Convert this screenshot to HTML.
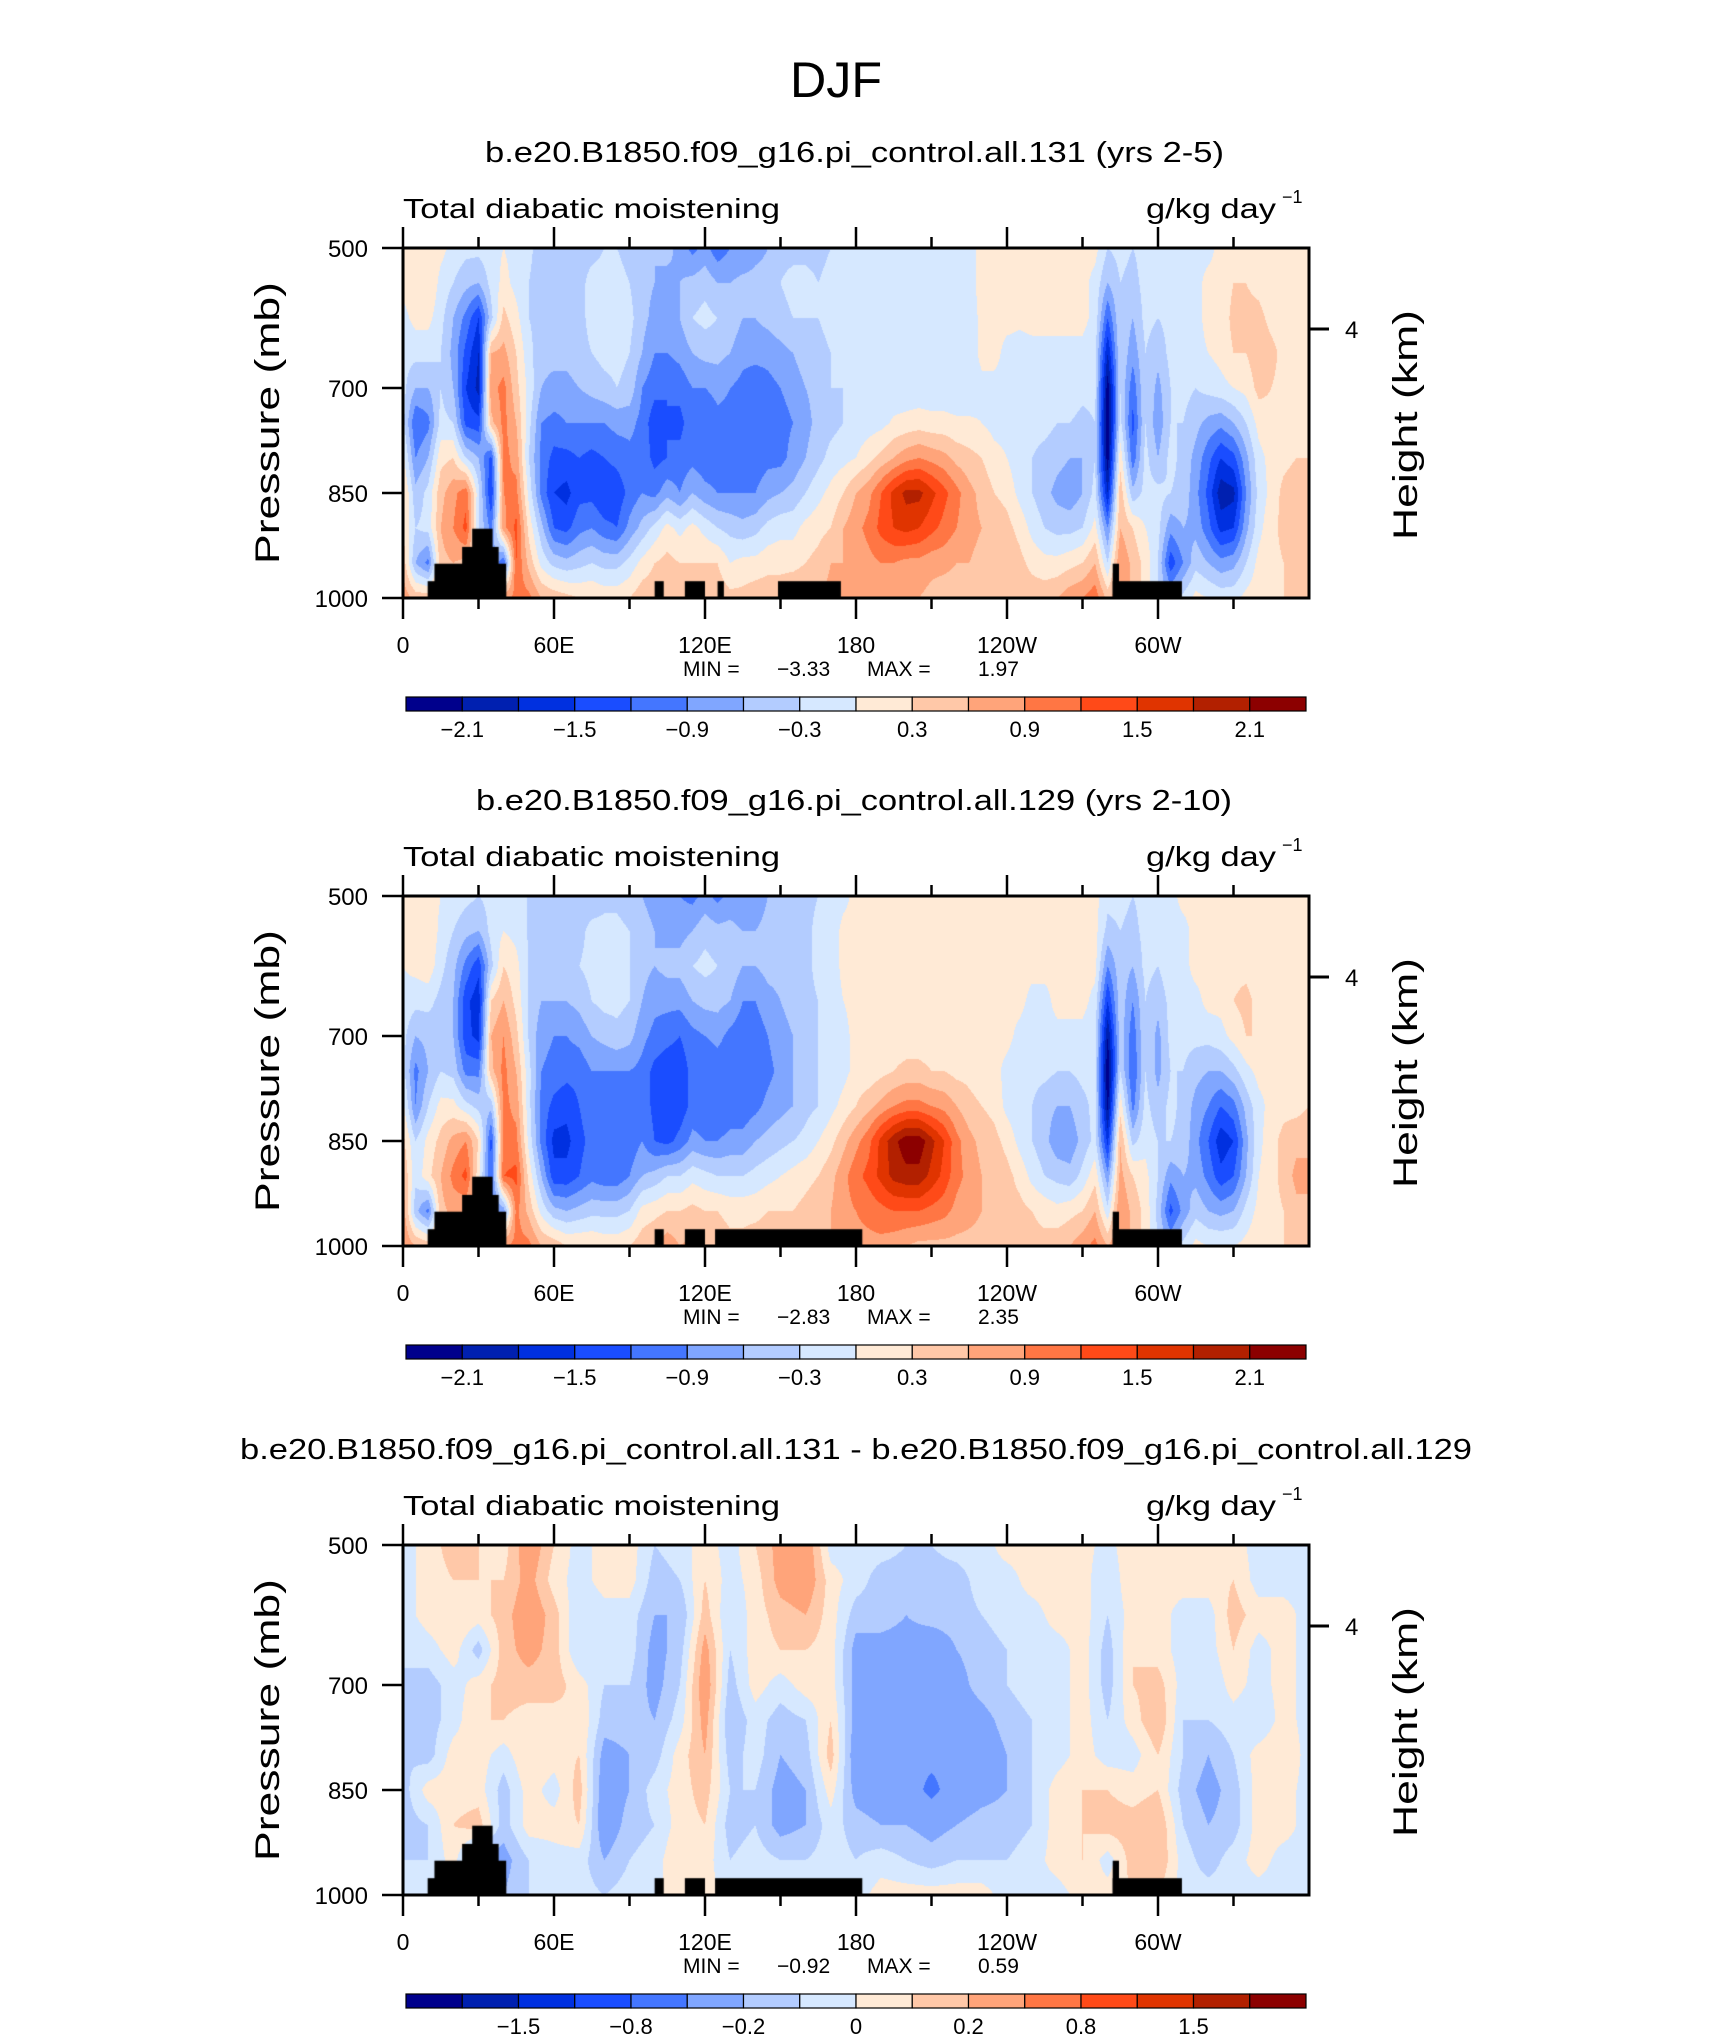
<!DOCTYPE html>
<html><head><meta charset="utf-8">
<style>
body{margin:0;background:#fff;width:1710px;height:2038px;overflow:hidden;position:relative;}
canvas{position:absolute;}
svg{position:absolute;left:0;top:0;}
text{font-family:"Liberation Sans",sans-serif;fill:#000;}
</style></head>
<body>
<svg id="s" width="1710" height="2038">
<text x="836" y="97" font-size="50" text-anchor="middle" style="font-weight:300" textLength="92" lengthAdjust="spacingAndGlyphs">DJF</text>
</svg>
<script>
const pressures=[500,550,600,650,700,750,800,850,900,950,1000];
const lons5=[0,5,10,15,20,25,30,35,40,45,50,55,60,65,70,75,80,85,90,95,100,105,110,115,120,125,130,135,140,145,150,155,160,165,170,175,180,185,190,195,200,205,210,215,220,225,230,235,240,245,250,255,260,265,270,275,280,285,290,295,300,305,310,315,320,325,330,335,340,345,350,355,360];
const lons10=[0,10,20,30,40,50,60,70,80,90,100,110,120,130,140,150,160,170,180,190,200,210,220,230,240,250,260,270,280,290,300,310,320,330,340,350,360];
const p1Values=[
[0.1,0.1,-0.1,-0.2,-0.2,-0.2,0.1,0.4,0.3,0.5,0.8],
[0.1,0.2,0.1,-0.2,-0.6,-1.2,-0.9,-0.5,-0.3,-0.6,0.5],
[0.2,0.3,0.1,-0.2,-0.6,-1.0,-0.6,-0.2,-0.2,-1.0,0.5],
[0.1,-0.1,-0.2,-0.3,-0.3,-0.2,0.2,0.5,0.6,0.5,0.5],
[-0.1,-0.3,-0.6,-0.7,-0.6,-0.3,0.3,0.8,0.9,0.6,0.5],
[-0.2,-0.5,-1.0,-1.3,-1.5,-1.3,-0.3,1.1,1.3,0.5,0.3],
[-0.2,-0.6,-1.5,-1.8,-1.9,-1.4,-0.6,-0.2,-0.3,0.3,0.3],
[-0.1,-0.2,-0.4,0.6,0.8,0.5,-1.3,-1.5,-1.0,-0.5,0.3],
[0,0.1,0.4,0.7,1.0,1.0,1.0,0.9,0.8,-1.2,0.8],
[-0.1,-0.1,0.1,0.3,0.4,0.6,0.8,1.0,1.3,1.2,1.0],
[-0.2,-0.3,-0.3,-0.2,-0.1,-0.2,-0.3,-0.1,0.2,0.5,1.0],
[-0.5,-0.5,-0.4,-0.5,-0.6,-0.9,-1.0,-1.0,-0.5,-0.1,0.6],
[-0.4,-0.4,-0.5,-0.5,-0.7,-1.0,-1.3,-1.5,-1.2,-0.4,0.5],
[-0.4,-0.4,-0.4,-0.5,-0.7,-0.9,-1.3,-1.6,-1.3,-0.5,0.4],
[-0.4,-0.4,-0.4,-0.4,-0.6,-0.9,-1.2,-1.3,-1.0,-0.4,0.3],
[-0.4,-0.2,-0.2,-0.3,-0.5,-0.9,-1.3,-1.3,-0.9,-0.3,0.3],
[-0.3,-0.2,-0.2,-0.2,-0.4,-0.9,-1.2,-1.5,-1.1,-0.4,0.2],
[-0.3,-0.2,-0.2,-0.2,-0.3,-0.8,-1.1,-1.4,-1.2,-0.4,0.2],
[-0.4,-0.3,-0.2,-0.3,-0.4,-0.8,-1.0,-1.1,-0.8,-0.2,0.3],
[-0.5,-0.5,-0.5,-0.6,-0.9,-1.0,-1.0,-0.9,-0.5,0.1,0.5],
[-0.6,-0.6,-0.7,-0.9,-1.1,-1.4,-1.3,-1.0,-0.2,0.3,0.5],
[-0.5,-0.7,-0.7,-0.9,-1.2,-1.2,-1.2,-0.7,0.1,0.4,0.4],
[-0.7,-0.6,-0.6,-0.8,-1.1,-1.3,-1.1,-0.9,-0.1,0.3,0.5],
[-1.0,-0.5,-0.3,-0.6,-0.9,-1.0,-1.0,-0.6,0.1,0.3,0.6],
[-0.8,-0.4,-0.2,-0.5,-0.9,-1.2,-1.1,-0.8,-0.1,0.3,0.6],
[-1.1,-0.6,-0.3,-0.5,-0.8,-1.0,-1.1,-0.9,-0.3,0.3,0.5],
[-0.9,-0.6,-0.4,-0.6,-0.9,-1.0,-1.1,-0.9,-0.4,0.0,0.4],
[-0.9,-0.5,-0.6,-0.8,-1.0,-1.1,-1.1,-0.9,-0.5,0.1,0.4],
[-0.7,-0.5,-0.6,-0.8,-1.1,-1.2,-1.1,-0.9,-0.4,0.1,0.5],
[-0.6,-0.5,-0.5,-0.8,-1.0,-1.1,-1.0,-0.7,-0.2,0.2,0.5],
[-0.4,-0.3,-0.4,-0.7,-0.9,-1.0,-1.0,-0.6,-0.1,0.2,0.5],
[-0.4,-0.2,-0.3,-0.6,-0.8,-0.9,-0.8,-0.5,-0.1,0.2,0.6],
[-0.4,-0.2,-0.3,-0.4,-0.6,-0.7,-0.6,-0.3,0.1,0.3,0.6],
[-0.4,-0.3,-0.3,-0.4,-0.5,-0.5,-0.4,-0.1,0.2,0.4,0.6],
[-0.3,-0.2,-0.2,-0.3,-0.3,-0.4,-0.2,0.1,0.3,0.6,0.7],
[-0.2,-0.2,-0.2,-0.2,-0.3,-0.3,-0.1,0.3,0.6,0.6,0.8],
[-0.1,-0.1,-0.1,-0.2,-0.2,-0.2,0.0,0.6,0.8,0.7,0.8],
[-0.1,-0.1,-0.1,-0.2,-0.2,-0.15,0.2,0.8,1.0,0.8,0.7],
[-0.2,-0.2,-0.2,-0.2,-0.2,-0.1,0.4,1.2,1.3,0.9,0.7],
[-0.2,-0.2,-0.2,-0.2,-0.2,0.05,0.6,1.6,1.5,0.9,0.7],
[-0.2,-0.2,-0.2,-0.2,-0.2,0.1,0.8,1.9,1.6,0.8,0.7],
[-0.2,-0.2,-0.2,-0.2,-0.2,0.15,0.9,1.9,1.5,0.8,0.6],
[-0.2,-0.2,-0.2,-0.2,-0.2,0.1,0.8,1.6,1.3,0.7,0.5],
[-0.2,-0.2,-0.2,-0.2,-0.2,0.1,0.7,1.3,1.1,0.7,0.4],
[-0.2,-0.2,-0.2,-0.2,-0.2,0.05,0.5,1.0,0.9,0.6,0.4],
[-0.1,-0.1,-0.2,-0.2,-0.2,0.05,0.4,0.7,0.7,0.6,0.4],
[0.1,0.1,0.1,0.1,-0.1,0.0,0.3,0.5,0.6,0.5,0.4],
[0.1,0.1,0.1,0.1,-0.1,-0.1,0.1,0.3,0.5,0.5,0.4],
[0.1,0.1,0.1,-0.1,-0.1,-0.1,0.0,0.2,0.4,0.5,0.4],
[0.1,0.1,0.05,-0.1,-0.1,-0.2,-0.2,-0.1,0.2,0.4,0.5],
[0.1,0.1,0.1,-0.1,-0.1,-0.2,-0.3,-0.3,-0.1,0.2,0.5],
[0.1,0.1,0.1,-0.1,-0.1,-0.2,-0.4,-0.5,-0.3,0.1,0.5],
[0.1,0.1,0.1,-0.1,-0.1,-0.3,-0.5,-0.7,-0.4,0.1,0.6],
[0.1,0.1,0.1,-0.1,-0.1,-0.3,-0.6,-0.8,-0.4,0.2,0.8],
[0.1,0.1,0.1,-0.1,-0.2,-0.4,-0.6,-0.6,-0.3,0.3,0.9],
[0.1,-0.1,-0.1,-0.2,-0.2,-0.3,-0.3,-0.2,0.1,0.6,1.1],
[-0.3,-0.6,-1.2,-1.8,-2.3,-2.4,-2.3,-1.8,-0.9,-0.3,0.5],
[-0.2,-0.3,-0.3,-0.3,-0.3,-0.2,0.2,0.5,0.6,0.9,0.9],
[-0.3,-0.4,-0.6,-0.8,-1.1,-1.3,-1.1,-0.5,0.3,0.5,0.5],
[-0.2,-0.2,-0.2,-0.3,-0.3,-0.3,-0.2,-0.2,0.0,0.2,0.2],
[-0.2,-0.2,-0.3,-0.5,-0.7,-0.8,-0.6,-0.2,-0.2,-0.3,-0.3],
[-0.2,-0.2,-0.2,-0.2,-0.3,-0.3,-0.2,-0.3,-0.8,-1.4,-0.6],
[-0.2,-0.1,-0.1,-0.2,-0.2,-0.3,-0.4,-0.4,-0.6,-0.9,-0.2],
[-0.1,-0.1,-0.1,-0.1,-0.3,-0.5,-0.7,-0.8,-0.7,-0.4,0.1],
[-0.1,0.1,0.1,0.0,-0.2,-0.7,-1.1,-1.3,-1.1,-0.6,0.0],
[0.1,0.1,0.1,0.1,-0.1,-0.8,-1.5,-2.0,-1.6,-0.8,-0.1],
[0.1,0.3,0.4,0.3,0.0,-0.6,-1.3,-1.9,-1.5,-0.7,-0.1],
[0.1,0.3,0.4,0.3,0.1,-0.3,-0.7,-0.9,-0.7,-0.3,0.1],
[0.1,0.2,0.4,0.5,0.4,0.1,-0.1,-0.2,-0.1,0.1,0.2],
[0.1,0.1,0.2,0.4,0.3,0.2,0.1,0.1,0.2,0.2,0.2],
[0.1,0.1,0.1,0.2,0.2,0.2,0.2,0.4,0.4,0.3,0.3],
[0.1,0.1,0.1,0.1,0.1,0.1,0.3,0.5,0.5,0.4,0.3],
[0.1,0.1,0.1,0.1,0.1,0.2,0.3,0.5,0.6,0.4,0.3]];
const p2Values=[
[0.1,0.1,0.0,-0.1,-0.2,-0.2,0.1,0.4,0.6,0.8,0.9],
[0.1,0.2,0.1,-0.2,-0.6,-1.0,-0.9,-0.3,-0.2,-0.5,0.6],
[0.2,0.3,0.2,-0.2,-0.5,-0.6,-0.3,0.1,0.2,-1.0,0.5],
[0.0,-0.1,-0.2,-0.4,-0.4,-0.3,0.1,0.4,0.6,0.5,0.4],
[-0.1,-0.3,-0.5,-0.6,-0.6,-0.4,0.1,0.7,1.0,0.7,0.5],
[-0.2,-0.5,-1.0,-1.4,-1.4,-1.0,-0.2,0.9,1.3,0.6,0.4],
[-0.3,-0.6,-1.4,-1.7,-1.6,-1.0,-0.4,0.3,0.1,0.5,0.5],
[-0.2,-0.2,-0.4,0.3,0.6,0.5,-0.5,-1.3,-1.2,-1.0,0.5],
[0,0,0.3,0.6,0.9,1.0,1.0,1.0,1.2,-0.8,0.9],
[-0.1,-0.1,0.1,0.2,0.4,0.6,0.8,1.0,1.3,1.0,1.0],
[-0.33,-0.33,-0.33,-0.33,-0.33,-0.2,-0.2,-0.1,0.2,0.5,1.0],
[-0.6,-0.6,-0.6,-0.6,-0.8,-0.9,-1.0,-1.0,-0.6,-0.1,0.6],
[-0.6,-0.6,-0.6,-0.6,-0.9,-1.0,-1.3,-1.6,-1.4,-0.5,0.5],
[-0.5,-0.5,-0.5,-0.6,-0.9,-1.1,-1.4,-1.6,-1.4,-0.6,0.3],
[-0.5,-0.4,-0.3,-0.5,-0.8,-1.1,-1.2,-1.3,-1.2,-0.5,0.3],
[-0.5,-0.2,-0.2,-0.3,-0.6,-0.9,-1.0,-1.1,-1.0,-0.4,0.3],
[-0.4,-0.2,-0.2,-0.2,-0.5,-0.9,-1.1,-1.2,-1.1,-0.4,0.2],
[-0.4,-0.2,-0.2,-0.2,-0.4,-0.9,-1.0,-1.2,-1.1,-0.4,0.2],
[-0.5,-0.3,-0.3,-0.3,-0.5,-0.9,-1.0,-1.1,-0.9,-0.3,0.3],
[-0.6,-0.5,-0.5,-0.6,-0.8,-1.0,-1.0,-0.9,-0.6,0.1,0.5],
[-0.7,-0.6,-0.6,-0.8,-1.0,-1.3,-1.3,-1.2,-0.5,0.2,0.6],
[-0.8,-0.7,-0.5,-0.8,-1.1,-1.4,-1.5,-1.3,-0.3,0.3,0.8],
[-0.9,-0.7,-0.5,-0.8,-1.2,-1.4,-1.4,-1.1,-0.3,0.3,0.6],
[-1.0,-0.6,-0.3,-0.6,-1.0,-1.1,-1.1,-0.8,-0.1,0.4,0.7],
[-0.8,-0.4,-0.2,-0.5,-0.9,-1.2,-1.1,-0.9,-0.2,0.3,0.6],
[-1.0,-0.5,-0.3,-0.5,-0.8,-1.1,-1.2,-0.9,-0.3,0.3,0.5],
[-0.8,-0.5,-0.4,-0.6,-1.0,-1.1,-1.1,-0.8,-0.3,0.2,0.4],
[-0.9,-0.6,-0.6,-0.9,-1.1,-1.2,-1.1,-0.8,-0.3,0.2,0.4],
[-0.8,-0.6,-0.6,-0.9,-1.1,-1.2,-1.0,-0.6,-0.2,0.2,0.5],
[-0.6,-0.5,-0.5,-0.7,-0.9,-1.0,-0.8,-0.5,-0.1,0.3,0.5],
[-0.5,-0.4,-0.5,-0.6,-0.7,-0.8,-0.7,-0.4,0.0,0.3,0.5],
[-0.5,-0.4,-0.4,-0.5,-0.6,-0.6,-0.6,-0.3,0.1,0.3,0.5],
[-0.4,-0.4,-0.4,-0.4,-0.5,-0.5,-0.4,-0.2,0.2,0.4,0.5],
[-0.3,-0.2,-0.2,-0.3,-0.3,-0.3,-0.3,0.0,0.3,0.5,0.6],
[-0.2,-0.2,-0.2,-0.2,-0.2,-0.2,-0.1,0.2,0.5,0.6,0.6],
[-0.1,0.1,0.1,0.0,-0.1,-0.1,0.1,0.5,0.8,0.8,0.7],
[0.1,0.1,0.1,0.1,0.1,0.1,0.3,0.8,1.1,0.9,0.8],
[0.1,0.1,0.1,0.1,0.1,0.1,0.5,1.1,1.3,1.0,0.8],
[0.1,0.1,0.1,0.1,0.1,0.2,0.7,1.6,1.6,1.1,0.8],
[0.1,0.1,0.1,0.1,0.1,0.3,0.9,2.0,1.9,1.2,0.7],
[0.1,0.1,0.1,0.1,0.1,0.4,1.0,2.3,2.0,1.2,0.6],
[0.1,0.1,0.1,0.1,0.1,0.4,1.0,2.3,2.0,1.2,0.5],
[0.1,0.1,0.1,0.1,0.1,0.3,0.9,1.9,1.7,1.1,0.5],
[0.1,0.1,0.1,0.1,0.1,0.3,0.8,1.5,1.4,1.0,0.5],
[0.1,0.1,0.1,0.1,0.1,0.2,0.6,1.0,1.0,0.8,0.5],
[0.1,0.1,0.1,0.1,0.1,0.2,0.4,0.7,0.8,0.7,0.5],
[0.1,0.1,0.1,0.1,0.1,0.1,0.3,0.5,0.6,0.6,0.5],
[0.1,0.1,0.1,0.1,0.1,0.1,0.2,0.4,0.5,0.5,0.5],
[0.1,0.1,0.1,0.1,0.1,-0.1,-0.1,0.2,0.4,0.4,0.4],
[0.1,0.1,0.1,0.1,-0.1,-0.2,-0.2,-0.1,0.2,0.4,0.4],
[0.1,0.1,0.1,-0.1,-0.2,-0.2,-0.3,-0.3,-0.1,0.3,0.4],
[0.1,0.1,0.1,-0.1,-0.1,-0.2,-0.5,-0.5,-0.3,0.2,0.4],
[0.1,0.1,0.1,0.1,-0.1,-0.3,-0.6,-0.8,-0.4,0.1,0.5],
[0.1,0.1,0.1,0.1,-0.1,-0.3,-0.6,-0.8,-0.5,0.2,0.6],
[0.1,0.1,0.1,0.1,-0.1,-0.2,-0.4,-0.5,-0.2,0.3,0.8],
[0.1,0.1,0.1,-0.1,-0.2,-0.2,-0.2,-0.2,0.2,0.6,1.0],
[-0.2,-0.4,-0.9,-1.5,-2.1,-2.4,-2.2,-1.6,-0.8,-0.2,0.6],
[-0.2,-0.3,-0.4,-0.4,-0.4,-0.3,0.2,0.6,0.7,0.9,0.9],
[-0.3,-0.4,-0.6,-0.9,-1.1,-1.2,-1.0,-0.4,0.3,0.5,0.5],
[-0.2,-0.2,-0.2,-0.3,-0.3,-0.3,-0.2,-0.1,0.1,0.2,0.2],
[-0.2,-0.2,-0.3,-0.5,-0.7,-0.7,-0.5,-0.3,-0.3,-0.4,-0.3],
[-0.1,-0.1,-0.1,-0.2,-0.2,-0.3,-0.2,-0.3,-0.8,-1.3,-0.6],
[0.1,-0.1,-0.1,-0.1,-0.2,-0.3,-0.4,-0.4,-0.6,-0.8,-0.2],
[0.1,0.1,0.1,-0.1,-0.2,-0.5,-0.7,-0.8,-0.7,-0.4,0.1],
[0.1,0.1,0.1,0.1,-0.2,-0.6,-0.9,-1.2,-1.0,-0.6,0.0],
[0.1,0.1,0.1,0.1,-0.1,-0.6,-1.2,-1.7,-1.4,-0.7,0.0],
[0.1,0.1,0.2,0.3,0.1,-0.4,-1.0,-1.5,-1.2,-0.6,0.0],
[0.1,0.1,0.2,0.4,0.3,-0.1,-0.5,-0.7,-0.6,-0.2,0.1],
[0.1,0.1,0.1,0.2,0.3,0.1,-0.1,-0.1,0.0,0.1,0.2],
[0.1,0.1,0.1,0.1,0.1,0.1,0.1,0.2,0.2,0.2,0.2],
[0.1,0.1,0.1,0.1,0.1,0.1,0.2,0.4,0.4,0.3,0.3],
[0.1,0.1,0.1,0.1,0.1,0.1,0.2,0.5,0.7,0.5,0.3],
[0.1,0.1,0.1,0.1,0.1,0.1,0.3,0.5,0.7,0.5,0.4]];
const p3Values=[
[-0.05,-0.05,-0.05,-0.1,-0.1,-0.15,-0.1,-0.15,-0.15,-0.1,-0.05],
[0.05,0.05,0.05,-0.05,-0.15,-0.15,-0.15,0.05,-0.1,-0.1,-0.1],
[0.15,0.1,0.1,0.05,-0.05,-0.05,0.05,0.05,0.1,0.05,0.05],
[0.1,0.1,0.05,-0.15,0.05,0.1,0.05,0.05,0.15,-0.3,-0.3],
[0.05,0.1,0.15,0.15,0.15,0.1,-0.05,-0.15,-0.15,-0.25,-0.2],
[0.3,0.25,0.3,0.25,0.15,0.05,0.1,0.05,0.05,-0.1,-0.1],
[0.1,0.05,0.15,0.15,0.15,0.05,0.05,-0.05,0.05,-0.05,-0.1],
[-0.05,-0.05,-0.1,-0.1,0.05,0.1,0.1,0.15,0.1,-0.05,-0.05],
[0.05,0.05,-0.05,-0.1,-0.1,-0.15,-0.25,-0.3,-0.3,-0.2,-0.1],
[0.05,0.05,-0.05,-0.05,-0.1,-0.15,-0.2,-0.2,-0.15,-0.1,-0.05],
[-0.1,-0.15,-0.2,-0.25,-0.25,-0.2,-0.15,-0.05,-0.1,-0.05,-0.05],
[-0.05,-0.1,-0.2,-0.15,-0.1,-0.05,0.05,0.05,0.05,0.1,0.1],
[0.05,0.1,0.15,0.25,0.3,0.25,0.2,0.15,0.1,0.05,0.05],
[-0.05,-0.05,-0.1,-0.1,-0.15,-0.2,-0.15,-0.1,-0.15,-0.1,-0.05],
[0.1,0.05,0.05,0.05,0.05,-0.05,-0.05,-0.1,-0.1,-0.05,-0.05],
[0.25,0.25,0.15,0.1,-0.05,-0.15,-0.2,-0.25,-0.25,-0.1,-0.05],
[0.3,0.3,0.2,0.1,0.05,-0.1,-0.15,-0.2,-0.2,-0.1,-0.05],
[-0.05,0.05,0.05,0.05,0.05,0.1,0.15,0.05,-0.05,-0.05,-0.05],
[-0.05,-0.05,-0.15,-0.25,-0.25,-0.25,-0.3,-0.25,-0.15,-0.1,-0.05],
[-0.05,-0.15,-0.15,-0.25,-0.3,-0.35,-0.35,-0.3,-0.2,-0.05,0.05],
[-0.1,-0.15,-0.2,-0.25,-0.3,-0.35,-0.35,-0.3,-0.2,-0.1,0.05],
[-0.1,-0.15,-0.15,-0.3,-0.3,-0.35,-0.35,-0.45,-0.25,-0.15,0.05],
[-0.05,-0.15,-0.15,-0.2,-0.25,-0.3,-0.35,-0.3,-0.2,-0.1,0.05],
[-0.05,-0.05,-0.1,-0.15,-0.15,-0.25,-0.3,-0.25,-0.15,-0.1,0.05],
[0.05,-0.05,-0.05,-0.1,-0.1,-0.15,-0.2,-0.2,-0.15,-0.1,-0.05],
[0.05,0.05,-0.05,-0.05,-0.05,-0.1,-0.1,-0.1,-0.1,-0.05,-0.05],
[0.05,0.05,0.05,-0.05,-0.05,-0.05,-0.05,0.05,0.05,0.05,-0.05],
[0.05,0.05,0.05,0.05,0.05,0.05,0.05,0.1,0.1,0.1,0.05],
[-0.05,-0.1,-0.1,-0.15,-0.15,-0.1,-0.05,0.1,0.15,-0.05,0.05],
[0.1,0.1,0.05,0.1,0.1,0.05,-0.05,0.05,0.15,0.15,0.1],
[0.05,0.05,0.05,0.05,0.15,0.2,0.1,0.1,0.2,0.2,0.1],
[0.05,0.05,-0.05,-0.05,-0.05,-0.1,-0.1,-0.15,-0.1,-0.05,-0.05],
[0.05,0.05,-0.05,-0.05,-0.1,-0.1,-0.2,-0.25,-0.2,-0.15,-0.05],
[0.05,0.1,0.15,0.1,0.05,-0.05,-0.1,-0.15,-0.15,-0.05,-0.05],
[-0.05,-0.05,0.05,-0.05,-0.05,-0.1,0.05,0.05,0.05,0.05,-0.05],
[-0.05,-0.05,0.05,0.05,0.05,0.05,0.1,0.05,0.05,-0.05,-0.05],
[-0.05,-0.05,-0.05,-0.05,-0.05,-0.05,-0.05,-0.05,-0.05,-0.05,-0.05]];
const levelsAB=[-2.1,-1.8,-1.5,-1.2,-0.9,-0.6,-0.3,0,0.3,0.6,0.9,1.2,1.5,1.8,2.1];
const levelsC=[-1.8,-1.5,-1.2,-0.8,-0.4,-0.2,-0.1,0,0.1,0.2,0.4,0.8,1.2,1.5,1.8];
const fillColors=['#00008c','#0020b0','#0030e0','#1a4dff','#4476ff','#80a6ff','#b3ccff','#d6e8ff','#ffead6','#ffc8a8','#ffa47a','#ff7644','#ff4a18','#e03400','#b22000','#8c0000'];
const cbLabelsAB=['\u22122.1','\u22121.5','\u22120.9','\u22120.3','0.3','0.9','1.5','2.1'];
const cbLabelsC=['\u22121.5','\u22120.8','\u22120.2','0','0.2','0.8','1.5'];
const topo1Lon0=[9.8,12.5,23.5,27.5,100,112,125,149,282,282];
const topo1Lon1=[41,41,38,35.6,103.6,120,127.5,174,309.5,284.5];
const topo1Top=[976,951,927,901,976,976,976,976,976,951];
const topo2Lon0=[9.8,12.5,23.5,27.5,100,112,124,282,282];
const topo2Lon1=[41,41,38,35.6,103.6,120,182.5,309.5,284.5];
const topo2Top=[976,951,927,901,976,976,976,976,951];
const xTickLons=[0,60,120,180,240,300];
const xTickLabels=['0','60E','120E','180','120W','60W'];
const yTickP=[500,700,850,1000];
const minVals=['\u22123.33','\u22122.83','\u22120.92'];
const maxVals=['1.97','2.35','0.59'];
const titles=['b.e20.B1850.f09_g16.pi_control.all.131 (yrs 2-5)','b.e20.B1850.f09_g16.pi_control.all.129 (yrs 2-10)','b.e20.B1850.f09_g16.pi_control.all.131 - b.e20.B1850.f09_g16.pi_control.all.129'];
const titleX=[485,476,240];
const titleW=[739,756,1232];

const X0=403,W=906,H=350;
const tops=[248,896,1545];
const svg=document.getElementById('s');
const NS='http://www.w3.org/2000/svg';
function mk(tag,attrs,txt){const e=document.createElementNS(NS,tag);for(const k in attrs)e.setAttribute(k,attrs[k]);if(txt!==undefined)e.textContent=txt;svg.appendChild(e);return e;}
function xScale(lon){return X0+lon/360*W;}
function yScale(p,top){return top+(p-500)/500*H;}
function findIdx(arr,v){let i=0;while(i<arr.length-2&&arr[i+1]<=v)i++;return i;}
function hex(c){return [parseInt(c.slice(1,3),16),parseInt(c.slice(3,5),16),parseInt(c.slice(5,7),16)];}
const rgb=fillColors.map(hex);

function drawPanel(k,lons,vals,levels,t0,t1,tt,cbl,cbStart){
  const top=tops[k];
  const cv=document.createElement('canvas');
  cv.width=W;cv.height=H;cv.style.left=X0+'px';cv.style.top=top+'px';
  
  
  document.body.insertBefore(cv,svg);
  const ctx=cv.getContext('2d');
  const img=ctx.createImageData(W,H);
  const colIdx=[],colF=[];
  for(let px=0;px<W;px++){const lon=(px+0.5)/W*360;const i=findIdx(lons,lon);colIdx.push(i);colF.push((lon-lons[i])/(lons[i+1]-lons[i]));}
  for(let py=0;py<H;py++){
    const p=500+(py+0.5)/H*500;const j=findIdx(pressures,p);const fy=(p-pressures[j])/(pressures[j+1]-pressures[j]);
    for(let px=0;px<W;px++){
      const i=colIdx[px],fx=colF[px];
      const v=(vals[i][j]*(1-fx)+vals[i+1][j]*fx)*(1-fy)+(vals[i][j+1]*(1-fx)+vals[i+1][j+1]*fx)*fy+1e-6;
      let c=0;while(c<levels.length&&v>=levels[c])c++;
      const o=(py*W+px)*4,col=rgb[c];
      img.data[o]=col[0];img.data[o+1]=col[1];img.data[o+2]=col[2];img.data[o+3]=255;
    }
  }
  ctx.putImageData(img,0,0);
  ctx.fillStyle='#000';
  for(let m=0;m<t0.length;m++){
    const x1=xScale(t0[m])-X0,x2=xScale(t1[m])-X0,y1=yScale(tt[m],top)-top;
    ctx.fillRect(x1,y1,x2-x1,H-y1);
  }
  const ti=mk('text',{x:titleX[k],y:top-86,'font-size':29,textLength:titleW[k],lengthAdjust:'spacingAndGlyphs'},titles[k]);
  
  
  const lt=mk('text',{x:403,y:top-30,'font-size':28,textLength:377,lengthAdjust:'spacingAndGlyphs','font-weight':300},'Total diabatic moistening');
  
  
  const un=mk('text',{x:1146,y:top-30,'font-size':28,textLength:130,lengthAdjust:'spacingAndGlyphs'},'g/kg day');
  
  
  const sup=mk('text',{x:1282,y:top-45,'font-size':18},'\u22121');
  
  
  const fr=mk('rect',{x:X0,y:top,width:W,height:H,fill:'none',stroke:'#000','stroke-width':3});
  
  
  for(let lon=0;lon<=330;lon+=30){
    const len=lon%60===0?21:11;const x=xScale(lon);
    const a=mk('line',{x1:x,x2:x,y1:top,y2:top-len,stroke:'#000','stroke-width':2.5});
    
    
    const b=mk('line',{x1:x,x2:x,y1:top+H,y2:top+H+len,stroke:'#000','stroke-width':2.5});
    
    
  }
  for(let m=0;m<xTickLons.length;m++){
    const tl=mk('text',{x:xScale(xTickLons[m]),y:top+H+55,'font-size':23,'text-anchor':'middle'},xTickLabels[m]);
    
    
  }
  for(let m=0;m<yTickP.length;m++){
    const y=yScale(yTickP[m],top);
    const l=mk('line',{x1:X0-21,x2:X0,y1:y,y2:y,stroke:'#000','stroke-width':2.5});
    
    
    const tl=mk('text',{x:368,y:y+9,'font-size':24,'text-anchor':'end'},String(yTickP[m]));
    
    
  }
  const yt=mk('text',{x:0,y:0,'font-size':34,'text-anchor':'middle',textLength:282,lengthAdjust:'spacingAndGlyphs',transform:'translate(279,'+(top+175)+') rotate(-90)'},'Pressure  (mb)');
  
  
  const ry=top+81;
  const rt=mk('line',{x1:X0+W,x2:X0+W+20,y1:ry,y2:ry,stroke:'#000','stroke-width':3});
  
  
  const rl=mk('text',{x:1345,y:ry+9,'font-size':24},'4');
  
  
  const ht=mk('text',{x:0,y:0,'font-size':34,'text-anchor':'middle',textLength:230,lengthAdjust:'spacingAndGlyphs',transform:'translate(1417,'+(top+177)+') rotate(-90)'},'Height  (km)');
  
  
  const mn=mk('text',{x:683,y:top+H+78,'font-size':21},'MIN =');
  
  
  const mv=mk('text',{x:777,y:top+H+78,'font-size':21},minVals[k]);
  
  
  const mx=mk('text',{x:867,y:top+H+78,'font-size':21},'MAX =');
  
  
  const xv=mk('text',{x:978,y:top+H+78,'font-size':21},maxVals[k]);
  
  
  const cy=top+449,bw=900/16;
  for(let c=0;c<16;c++){
    const r=mk('rect',{x:406+c*bw,y:cy,width:bw,height:14,fill:fillColors[c],stroke:'#000','stroke-width':1.2});
    
    
  }
  for(let m=0;m<cbl.length;m++){
    const bi=cbStart+2*m;
    const tl=mk('text',{x:406+(bi+1)*bw,y:cy+40,'font-size':22,'text-anchor':'middle'},cbl[m]);
    
    
  }
}
drawPanel(0,lons5,p1Values,levelsAB,topo1Lon0,topo1Lon1,topo1Top,cbLabelsAB,0);
drawPanel(1,lons5,p2Values,levelsAB,topo2Lon0,topo2Lon1,topo2Top,cbLabelsAB,0);
drawPanel(2,lons10,p3Values,levelsC,topo2Lon0,topo2Lon1,topo2Top,cbLabelsC,1);
</script>
</body></html>
